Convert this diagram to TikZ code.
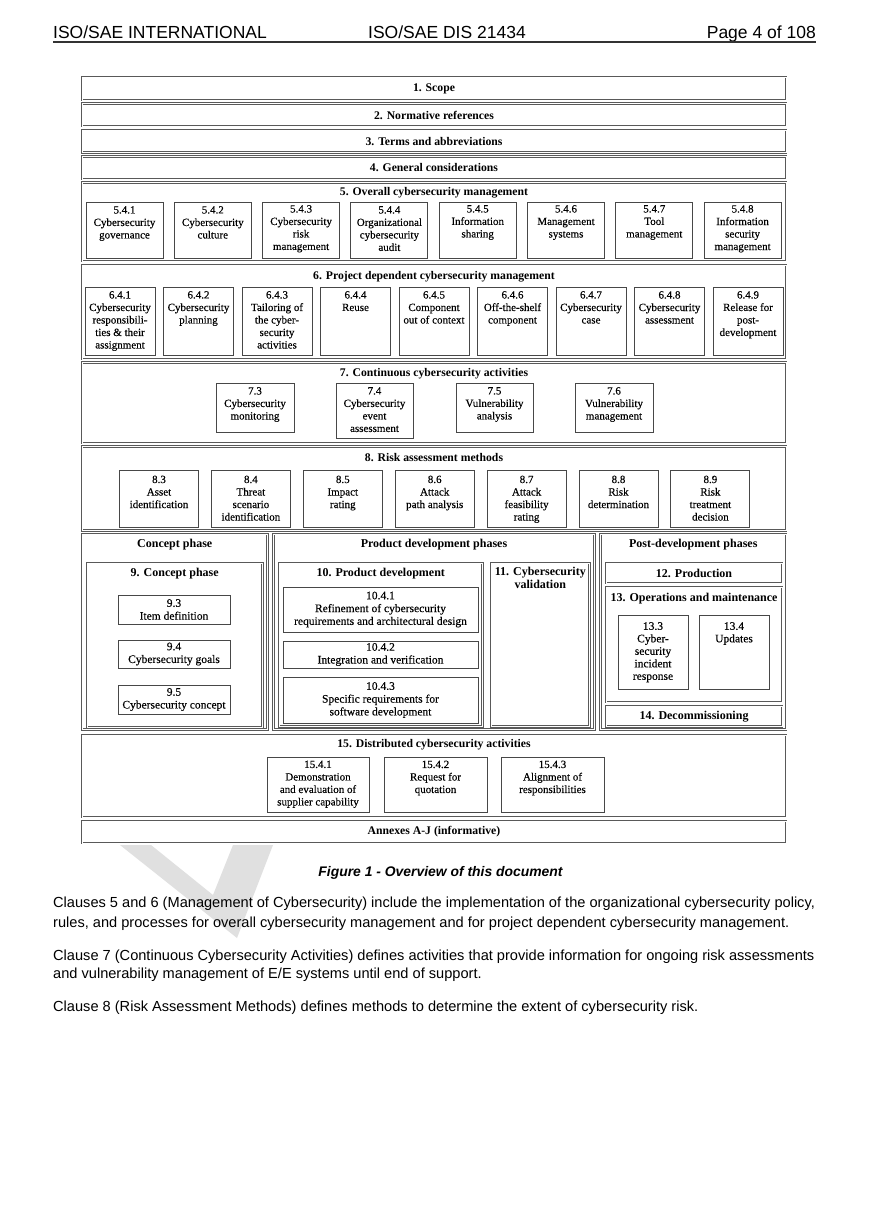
\documentclass[tikz,border=0pt]{standalone}
\usepackage{fontspec}
\setmainfont{Liberation Serif}
\newfontfamily\sansf{Liberation Sans}
\newfontfamily\boxf[FakeBold=0.25]{Liberation Serif}
\newcommand\fs{\boxf\fontsize{11}{12.5}\selectfont}
\newcommand\fsb{\boxf\fontsize{11.5}{12.8}\selectfont}
\tikzset{
  cont/.style={draw=black!65, double, double distance=0.8pt, line width=0.7pt},
  leaf/.style={draw=black!72, line width=1pt},
  txt/.style={font=\fs, align=center, inner sep=0pt, text=black},
  txtb/.style={font=\fsb, align=center, inner sep=0pt, text=black},
  ttl/.style={font=\fontsize{11.7}{13}\selectfont\bfseries, align=center, inner sep=0pt, text=black},
  ttlb/.style={font=\fontsize{12}{13.2}\selectfont\bfseries, align=center, inner sep=0pt, text=black},
  hdr/.style={font=\sansf\fontsize{17.5}{20}\selectfont, inner sep=0pt},
  body/.style={font=\sansf\fontsize{14.6}{18}\selectfont, inner sep=0pt, anchor=base west}
}
% leaf box, text top-aligned: name, x1, y1, x2, y2, offset, text
\newcommand\lbox[7]{\draw[leaf] (#2,#3) rectangle (#4,#5);
  \node[txt, anchor=north] (#1) at ({(#2+#4)/2},{#3+#6}) {#7};}
% leaf box, text centred (bottom part): name, x1, y1, x2, y2, text
\newcommand\midbox[6]{\draw[leaf] (#2,#3) rectangle (#4,#5);
  \node[txtb] (#1) at ({(#2+#4)/2},{(#3+#5)/2}) {#6};}
\newcommand\contbox[4]{\draw[cont] (#1,#2) rectangle (#3,#4);}
\begin{document}
\begin{tikzpicture}[x=1pt,y=-1pt]
\useasboundingbox (0,0) rectangle (869,1228);
\fill[white] (0,0) rectangle (869,1228);
% watermark fragment
\fill[black!12] (120,845) -- (151,845) -- (213,895) -- (233,845) -- (273,845) -- (237,938) -- cycle;
% header
\node[hdr, anchor=base west] (h1) at (53,39) {ISO/SAE INTERNATIONAL};
\node[hdr, anchor=base] (h2) at (447,39) {ISO/SAE DIS 21434};
\node[hdr, anchor=base east] (h3) at (816,39) {Page 4 of 108};
\draw[line width=1.2pt, black!80] (53,42) -- (816,42);
% rows 1-4
\contbox{82}{77}{786}{100}
\node[ttl] (t1) at (434,88.5) {1. Scope};
\contbox{82}{103.5}{786}{126}
\node[ttl] (t2) at (434,115) {2. Normative references};
\contbox{82}{130}{786}{152.5}
\node[ttl] (t3) at (434,141.5) {3. Terms and abbreviations};
\contbox{82}{156.5}{786}{179}
\node[ttl] (t4) at (434,168) {4. General considerations};
% 5
\contbox{82}{182.5}{786}{261}
\node[ttl] (t5) at (434,192.5) {5. Overall cybersecurity management};
\lbox{b541}{86}{202}{163}{258}{4}{5.4.1\\Cybersecurity\\governance}
\lbox{b542}{174.3}{202}{251.3}{258}{4}{5.4.2\\Cybersecurity\\culture}
\lbox{b543}{262.6}{202}{339.6}{258}{3}{5.4.3\\Cybersecurity\\risk\\management}
\lbox{b544}{350.9}{202}{427.9}{258}{4}{5.4.4\\Organizational\\cybersecurity\\audit}
\lbox{b545}{439.2}{202}{516.2}{258}{3}{5.4.5\\Information\\sharing}
\lbox{b546}{527.5}{202}{604.5}{258}{3}{5.4.6\\Management\\systems}
\lbox{b547}{615.8}{202}{692.8}{258}{3}{5.4.7\\Tool\\management}
\lbox{b548}{704.1}{202}{781.1}{258}{3}{5.4.8\\Information\\security\\management}
% 6
\contbox{82}{265}{786}{359}
\node[ttl] (t6) at (434,277) {6. Project dependent cybersecurity management};
\lbox{b641}{85}{287}{155}{355}{4}{6.4.1\\Cybersecurity\\responsibili-\\ties \& their\\assignment}
\lbox{b642}{163.5}{287}{233.5}{355}{4}{6.4.2\\Cybersecurity\\planning}
\lbox{b643}{242}{287}{312}{355}{4}{6.4.3\\Tailoring of\\the cyber-\\security\\activities}
\lbox{b644}{320.5}{287}{390.5}{355}{4}{6.4.4\\Reuse}
\lbox{b645}{399}{287}{469}{355}{4}{6.4.5\\Component\\out of context}
\lbox{b646}{477.5}{287}{547.5}{355}{4}{6.4.6\\Off-the-shelf\\component}
\lbox{b647}{556}{287}{626}{355}{4}{6.4.7\\Cybersecurity\\case}
\lbox{b648}{634.5}{287}{704.5}{355}{4}{6.4.8\\Cybersecurity\\assessment}
\lbox{b649}{713}{287}{783}{355}{4}{6.4.9\\Release for\\post-\\development}
% 7
\contbox{82}{362.5}{786}{443}
\node[ttl] (t7) at (434,374) {7. Continuous cybersecurity activities};
\lbox{b73}{216}{383}{294}{432}{4}{7.3\\Cybersecurity\\monitoring}
\lbox{b74}{336}{383}{413}{438.5}{4}{7.4\\Cybersecurity\\event\\assessment}
\lbox{b75}{456}{383}{533}{432}{4}{7.5\\Vulnerability\\analysis}
\lbox{b76}{575}{383}{653}{432}{4}{7.6\\Vulnerability\\management}
% 8
\contbox{82}{446.5}{786}{530.5}
\node[ttl] (t8) at (434,457.5) {8. Risk assessment methods};
\lbox{b83}{119.5}{470}{198.5}{527}{5.5}{8.3\\Asset\\identification}
\lbox{b84}{211.4}{470}{290.4}{527}{5.5}{8.4\\Threat\\scenario\\identification}
\lbox{b85}{303.3}{470}{382.3}{527}{5.5}{8.5\\Impact\\rating}
\lbox{b86}{395.2}{470}{474.2}{527}{5.5}{8.6\\Attack\\path analysis}
\lbox{b87}{487.1}{470}{566.1}{527}{5.5}{8.7\\Attack\\feasibility\\rating}
\lbox{b88}{579}{470}{658}{527}{5.5}{8.8\\Risk\\determination}
\lbox{b89}{670.9}{470}{749.9}{527}{5.5}{8.9\\Risk\\treatment\\decision}
% phase row
\contbox{82}{534}{267.5}{729.5}
\node[ttlb] (pc) at (174.75,544.5) {Concept phase};
\contbox{273.5}{534}{594.5}{729.5}
\node[ttlb] (pd) at (434,544.5) {Product development phases};
\contbox{600.5}{534}{786}{729.5}
\node[ttlb] (pp) at (693.25,544.5) {Post-development phases};
% 9
\contbox{87}{563}{262.5}{727}
\node[ttlb] (t9) at (174.75,573.5) {9. Concept phase};
\midbox{b93}{118}{595}{230}{624}{9.3\\Item definition}
\midbox{b94}{118}{640}{230}{668}{9.4\\Cybersecurity goals}
\midbox{b95}{118}{685}{230}{714}{9.5\\Cybersecurity concept}
% 10
\contbox{279}{563}{482.5}{726.5}
\node[ttlb] (t10) at (380.75,573.5) {10. Product development};
\midbox{b1041}{283}{587}{478}{632}{10.4.1\\Refinement of cybersecurity\\requirements and architectural design}
\midbox{b1042}{283}{641}{478}{668}{10.4.2\\Integration and verification}
\midbox{b1043}{283}{677}{478}{723}{10.4.3\\Specific requirements for\\software development}
% 11
\contbox{491}{563}{589.5}{726.5}
\node[ttlb, anchor=north] (t11) at (540.25,567) {11. Cybersecurity\\validation};
% 12-14
\contbox{606}{563}{782}{583}
\node[ttlb] (t12) at (694,573.5) {12. Production};
\contbox{606}{587}{782}{702}
\node[ttlb] (t13) at (694,598.5) {13. Operations and maintenance};
\lbox{b133}{618}{615}{688}{689}{7}{\fsb 13.3\\\fsb Cyber-\\\fsb security\\\fsb incident\\\fsb response}
\lbox{b134}{699}{615}{769}{689}{7}{\fsb 13.4\\\fsb Updates}
\contbox{606}{706}{782}{726.5}
\node[ttlb] (t14) at (694,716.5) {14. Decommissioning};
% 15
\contbox{82}{735}{786}{817}
\node[ttl] (t15) at (434,744.5) {15. Distributed cybersecurity activities};
\lbox{b1541}{267}{757}{369}{812.5}{3.5}{15.4.1\\Demonstration\\and evaluation of\\supplier capability}
\lbox{b1542}{384}{757}{487}{812.5}{3.5}{15.4.2\\Request for\\quotation}
\lbox{b1543}{501}{757}{604}{812.5}{3.5}{15.4.3\\Alignment of\\responsibilities}
% annexes
\contbox{82}{821}{786}{843}
\node[ttl] (tA) at (434,832) {Annexes A-J (informative)};
% caption and body text
\node[font=\sansf\bfseries\itshape\fontsize{13.9}{16}\selectfont, inner sep=0pt, anchor=base] (cap) at (440.5,876) {Figure 1 - Overview of this document};
\node[body] (p1a) at (53,907) {Clauses 5 and 6 (Management of Cybersecurity) include the implementation of the organizational cybersecurity policy,};
\node[body] (p1b) at (53,927) {rules, and processes for overall cybersecurity management and for project dependent cybersecurity management.};
\node[body] (p2a) at (53,960) {Clause 7 (Continuous Cybersecurity Activities) defines activities that provide information for ongoing risk assessments};
\node[body] (p2b) at (53,978.5) {and vulnerability management of E/E systems until end of support.};
\node[body] (p3a) at (53,1011) {Clause 8 (Risk Assessment Methods) defines methods to determine the extent of cybersecurity risk.};
\end{tikzpicture}
\end{document}
